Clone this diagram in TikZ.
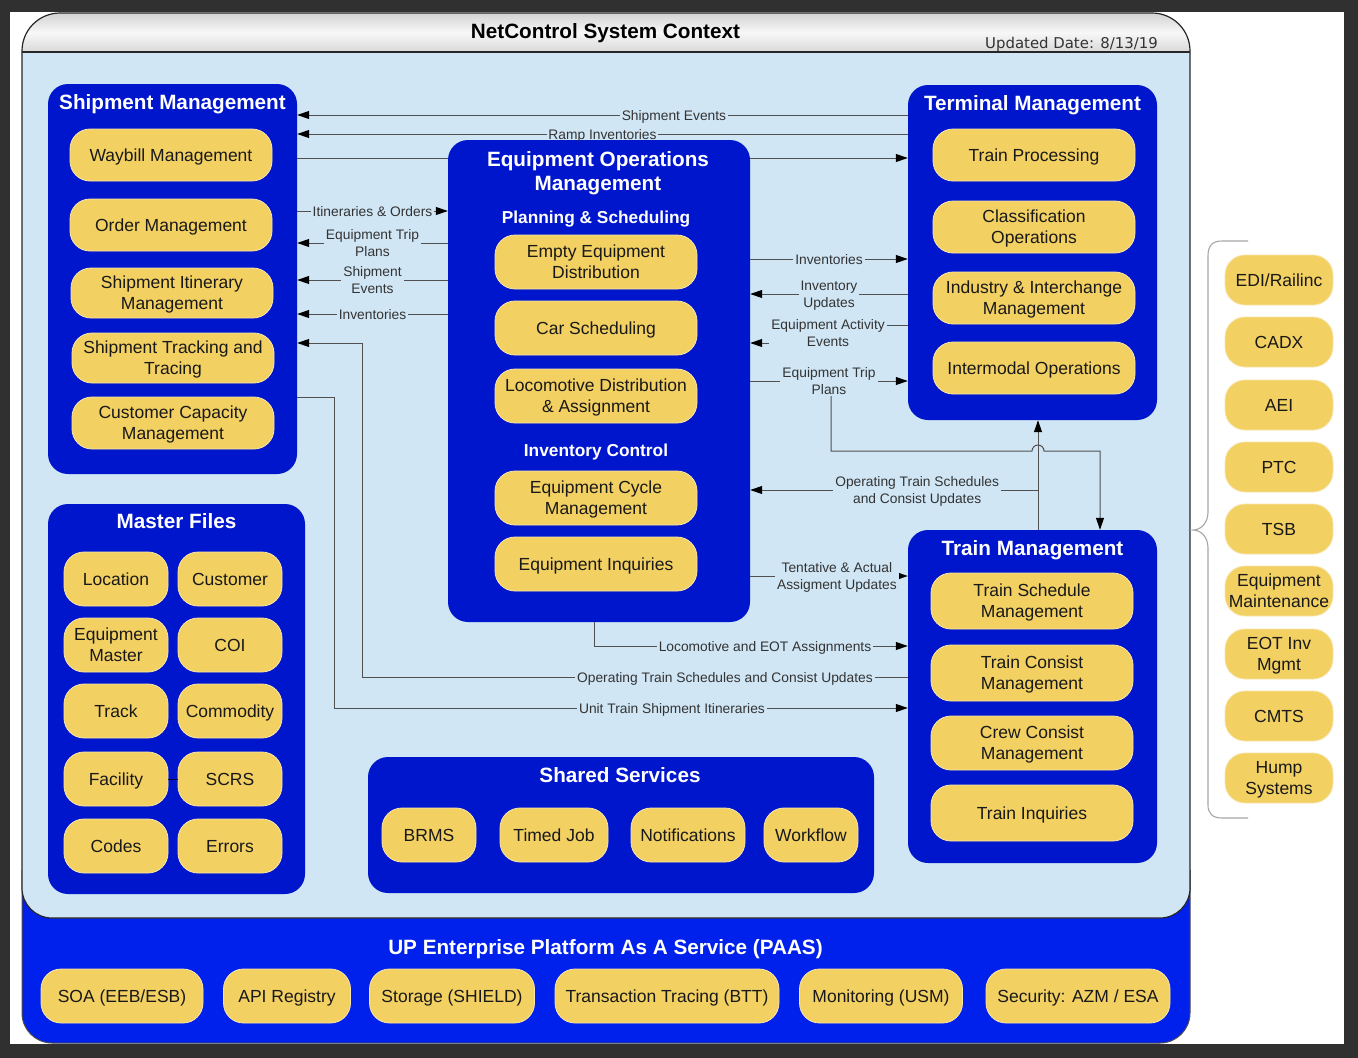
\documentclass[tikz,border=0pt]{standalone}
\usepackage{fontspec}
\setmainfont{Liberation Sans}
\newfontfamily\dejavu{DejaVu Sans}
\usetikzlibrary{arrows.meta}
\definecolor{pblue}{RGB}{0,22,204}
\definecolor{bband}{RGB}{0,32,235}
\definecolor{lblue}{RGB}{208,230,245}
\definecolor{pyel}{RGB}{242,208,98}
\definecolor{frm}{RGB}{48,48,48}
\definecolor{lncol}{RGB}{80,80,80}
\newcommand\fsz[2]{\fontsize{#1}{#2}\selectfont}
\tikzset{
 panel/.style={fill=pblue, rounded corners=20pt, inner sep=0pt},
 pill/.style 2 args={fill=pyel, draw=pyel!55!white, line width=0.8pt, rounded corners=20pt, align=center, inner sep=1pt, font=\fsz{17.5}{21}, text=black!90, text depth=0pt, minimum width=#1, minimum height=#2},
 ttl/.style={text=white, font=\bfseries\fsz{20.7}{24}, align=center, text depth=0pt},
 subttl/.style={text=white, font=\bfseries\fsz{17.3}{20}, text depth=0pt},
 conn/.style={draw=lncol, line width=1pt},
 tip/.style={-{Triangle[length=12pt,width=8pt,color=black]}},
 arr/.style={conn, tip},
 lbl/.style={fill=lblue, text=black!80, font=\fsz{13.8}{16.5}, align=center, inner sep=2pt, text depth=0pt},
}
\begin{document}
\begin{tikzpicture}[x=1pt,y=-1pt]
\useasboundingbox (0,0) rectangle (1358,1058);
\fill[frm] (0,0) rectangle (1358,1058);
\fill[white] (10,12) rectangle (1344,1044);
% platform band
\fill[bband, rounded corners=30pt] (22,870) -- (22,1043) -- (1190,1043) -- (1190,870);
\draw[black!70, line width=1pt, rounded corners=30pt] (22,870) -- (22,1043) -- (1190,1043) -- (1190,870);
% light blue area
\path[fill=lblue, draw=black!85, line width=1.2pt, rounded corners=30pt] (22,52) -- (22,918) -- (1190,918) -- (1190,52);
% header
\path[top color=gray!35, bottom color=gray!30, middle color=gray!6, draw=black!85, line width=1.2pt, rounded corners=38pt] (22,52) -- (22,13) -- (1190,13) -- (1190,52);
\draw[black!85, line width=1.2pt] (22,52) -- (1190,52);
\node[font=\bfseries\fsz{20.7}{24}, text depth=0pt] (title) at (605.5,31) {NetControl System Context};
\node[font=\dejavu\fsz{14.9}{17}, text=black!80, text depth=0pt] (date) at (1071.5,43) {Updated Date: 8/13/19};

% panels
\node[panel, minimum width=249pt, minimum height=390pt] (SM) at (172.5,279) {};
\node[panel, minimum width=249pt, minimum height=335pt] (TM) at (1032.5,252.5) {};
\draw[arr] (SM.east |- 0,158) -- (TM.west |- 0,158);
\node[panel, minimum width=302pt, minimum height=482pt] (EO) at (599,381) {};
\node[panel, minimum width=257pt, minimum height=390pt] (MF) at (176.5,699) {};
\node[panel, minimum width=249pt, minimum height=333pt] (TR) at (1032.5,696.5) {};
\node[panel, minimum width=506pt, minimum height=136pt] (SS) at (621,825) {};

% Shipment Management
\node[ttl] (SMt) at (172.5,102) {Shipment Management};
\node[pill={202pt}{52pt}] (wb) at (171,155) {Waybill Management};
\node[pill={202pt}{52pt}] (om) at (171,225) {Order Management};
\node[pill={202pt}{50pt}] (sim) at (172,293) {Shipment Itinerary\\Management};
\node[pill={202pt}{50pt}] (stt) at (173,358) {Shipment Tracking and\\Tracing};
\node[pill={202pt}{52pt}] (ccm) at (173,423) {Customer Capacity\\Management};

% Master Files
\node[ttl] (MFt) at (176.5,521) {Master Files};
\node[pill={104pt}{54pt}] (loc) at (116,579) {Location};
\node[pill={104pt}{54pt}] (cus) at (230,579) {Customer};
\node[pill={104pt}{54pt}] (eqm) at (116,645) {Equipment\\Master};
\node[pill={104pt}{54pt}] (coi) at (230,645) {COI};
\node[pill={104pt}{54pt}] (trk) at (116,711) {Track};
\node[pill={104pt}{54pt}] (com) at (230,711) {Commodity};
\node[pill={104pt}{54pt}] (fac) at (116,779) {Facility};
\node[pill={104pt}{54pt}] (scrs) at (230,779) {SCRS};
\node[pill={104pt}{54pt}] (cod) at (116,846) {Codes};
\node[pill={104pt}{54pt}] (err) at (230,846) {Errors};
\draw[black!80!blue, line width=1pt] (fac.east) -- (scrs.west);

% Equipment Operations Management
\node[ttl] (EOt) at (598,171) {Equipment Operations\\Management};
\node[subttl] (ps) at (596,217) {Planning \& Scheduling};
\node[pill={202pt}{54pt}] (eed) at (596,262) {Empty Equipment\\Distribution};
\node[pill={202pt}{54pt}] (cs) at (596,328) {Car Scheduling};
\node[pill={202pt}{54pt}] (lda) at (596,396) {Locomotive Distribution\\\& Assignment};
\node[subttl] (ic) at (596,450) {Inventory Control};
\node[pill={202pt}{54pt}] (ecm) at (596,498) {Equipment Cycle\\Management};
\node[pill={202pt}{54pt}] (ei) at (596,564) {Equipment Inquiries};

% Terminal Management
\node[ttl] (TMt) at (1032.5,103) {Terminal Management};
\node[pill={202pt}{52pt}] (tp) at (1034,155) {Train Processing};
\node[pill={202pt}{52pt}] (co) at (1034,227) {Classification\\Operations};
\node[pill={202pt}{52pt}] (iim) at (1034,298) {Industry \& Interchange\\Management};
\node[pill={202pt}{52pt}] (io) at (1034,368) {Intermodal Operations};

% Train Management
\node[ttl] (TRt) at (1032.5,548) {Train Management};
\node[pill={202pt}{56pt}] (tsm) at (1032,601) {Train Schedule\\Management};
\node[pill={202pt}{56pt}] (tcm) at (1032,673) {Train Consist\\Management};
\node[pill={202pt}{54pt}] (ccm2) at (1032,743) {Crew Consist\\Management};
\node[pill={202pt}{56pt}] (ti) at (1032,813) {Train Inquiries};

% Shared Services
\node[ttl] (SSt) at (620,775) {Shared Services};
\node[pill={94pt}{54pt}] (brms) at (429,835) {BRMS};
\node[pill={108pt}{54pt}] (tj) at (554,835) {Timed Job};
\node[pill={114pt}{54pt}] (nt) at (688,835) {Notifications};
\node[pill={94pt}{54pt}] (wf) at (811,835) {Workflow};

% Platform
\node[ttl] (PAt) at (605.5,947) {UP Enterprise Platform As A Service (PAAS)};
\node[pill={162pt}{54pt}] (soa) at (122,996) {SOA (EEB/ESB)};
\node[pill={127pt}{54pt}] (api) at (287,996) {API Registry};
\node[pill={165pt}{54pt}] (sto) at (452,996) {Storage (SHIELD)};
\node[pill={224pt}{54pt}] (btt) at (667,996) {Transaction Tracing (BTT)};
\node[pill={163pt}{54pt}] (usm) at (881,996) {Monitoring (USM)};
\node[pill={184pt}{54pt}] (sec) at (1078,996) {Security: AZM / ESA};

% External systems
\node[pill={108pt}{50pt}] (edi) at (1279,280) {EDI/Railinc};
\node[pill={108pt}{50pt}] (cadx) at (1279,342) {CADX};
\node[pill={108pt}{50pt}] (aei) at (1279,405) {AEI};
\node[pill={108pt}{50pt}] (ptc) at (1279,467) {PTC};
\node[pill={108pt}{50pt}] (tsb) at (1279,529) {TSB};
\node[pill={108pt}{50pt}] (eqmt) at (1279,591) {Equipment\\Maintenance};
\node[pill={108pt}{50pt}] (eot) at (1279,654) {EOT Inv\\Mgmt};
\node[pill={108pt}{50pt}] (cmts) at (1279,716) {CMTS};
\node[pill={108pt}{50pt}] (hump) at (1279,778) {Hump\\Systems};
\draw[gray!70, line width=1.1pt] (1248,241) -- (1222,241) .. controls (1212,241) and (1208,246) .. (1208,256) -- (1208,512) .. controls (1208,524) and (1200,530) .. (1193,530) .. controls (1200,530) and (1208,536) .. (1208,548) -- (1208,805) .. controls (1208,813) and (1212,818) .. (1222,818) -- (1248,818);

% connectors: Terminal -> Shipment
\draw[arr] (TM.west |- 0,115) -- node[lbl, pos=0.383] (l1) {Shipment Events} (SM.east |- 0,115);
\draw[arr] (TM.west |- 0,134) -- node[lbl, pos=0.5, inner sep=1pt] (l2) {Ramp Inventories} (SM.east |- 0,134);
% Shipment <-> Equipment Ops
\draw[arr] (SM.east |- 0,211) -- node[lbl] (l4) {Itineraries \& Orders} (EO.west |- 0,211);
\draw[arr] (EO.west |- 0,243) -- node[lbl] (l5) {Equipment Trip\\Plans} (SM.east |- 0,243);
\draw[arr] (EO.west |- 0,280) -- node[lbl] (l6) {Shipment\\Events} (SM.east |- 0,280);
\draw[arr] (EO.west |- 0,314) -- node[lbl] (l7) {Inventories} (SM.east |- 0,314);
% long routes
\draw[arr] (TR.west |- 0,677) -- node[lbl, pos=0.335] (l8) {Operating Train Schedules and Consist Updates} (362,677) -- (362,343) -- (SM.east |- 0,343);
\draw[arr] (SM.east |- 0,397) -- (334,397) -- (334,708) -- node[lbl, pos=0.589] (l9) {Unit Train Shipment Itineraries} (TR.west |- 0,708);
\draw[arr] (594,0 |- EO.south) -- (594,646) -- node[lbl, pos=0.545] (l10) {Locomotive and EOT Assignments} (TR.west |- 0,646);
% Equipment Ops <-> Terminal
\draw[arr] (EO.east |- 0,259) -- node[lbl] (l11) {Inventories} (TM.west |- 0,259);
\draw[arr] (TM.west |- 0,294) -- node[lbl] (l12) {Inventory\\Updates} (EO.east |- 0,294);
\draw[arr] (TM.west |- 0,325) -- (828,325) -- (828,343) -- (EO.east |- 0,343);
\node[lbl] (l13) at (828,333) {Equipment Activity\\Events};
\draw[arr] (831,381) -- (831,451) -- (1032,451) arc[start angle=180, end angle=0, radius=6pt] -- (1100,451) -- (1100,0 |- TR.north);
\draw[arr] (EO.east |- 0,381) -- node[lbl] (l14) {Equipment Trip\\Plans} (TM.west |- 0,381);
% Train <-> Terminal / Equipment Ops
\draw[arr] (1038,0 |- TR.north) -- (1038,0 |- TM.south);
\draw[arr] (1038,0 |- TR.north) -- (1038,490) -- node[lbl, pos=0.42] (l16) {Operating Train Schedules\\and Consist Updates} (EO.east |- 0,490);
\draw[arr] (EO.east |- 0,576) -- node[lbl, pos=0.55] (l17) {Tentative \& Actual\\Assigment Updates} (TR.west |- 0,576);
\end{tikzpicture}
\end{document}
